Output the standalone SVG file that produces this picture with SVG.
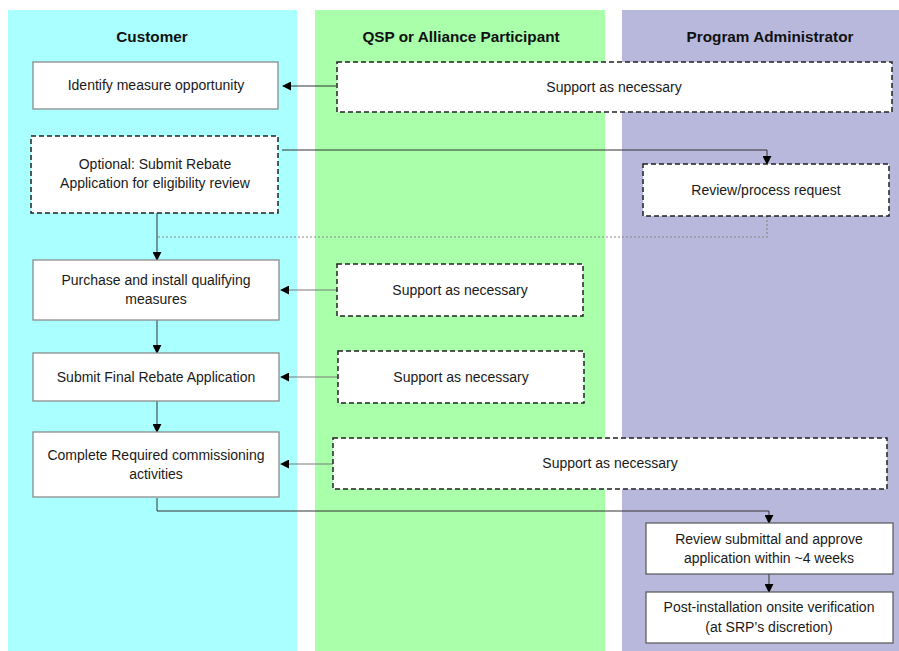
<svg xmlns="http://www.w3.org/2000/svg" width="899" height="651" viewBox="0 0 899 651">
<style>
.t{font-family:"Liberation Sans",Arial,sans-serif;font-size:14px;fill:#1a1a1a;text-anchor:middle}
.s{font-family:"Liberation Sans",Arial,sans-serif;font-size:14px;fill:#1a1a1a;text-anchor:middle}
.h{font-family:"Liberation Sans",Arial,sans-serif;font-size:15.3px;font-weight:bold;fill:#111;text-anchor:middle}
.solid{fill:#fff;stroke:#8c8c8c;stroke-width:1.3}
.solid2{fill:#fff;stroke:#555;stroke-width:1.2}
.dash{fill:#fff;stroke:#222;stroke-width:1.5;stroke-dasharray:5,3}
.c{fill:none;stroke:#333;stroke-width:1}
.cg{fill:none;stroke:#7a7a7a;stroke-width:1.2}
.cd{fill:none;stroke:#888;stroke-width:1.2;stroke-dasharray:2,2}
</style>
<defs>
<marker id="a" viewBox="0 0 10 10" refX="9" refY="5" markerWidth="9" markerHeight="9" markerUnits="userSpaceOnUse" orient="auto">
<path d="M0,0 L10,5 L0,10 z" fill="#000"/>
</marker>
</defs>
<rect width="899" height="651" fill="#fff"/>
<g id="lanes">
<rect x="8" y="10" width="289" height="641" fill="#aaffff"/>
<rect x="315" y="10" width="290" height="641" fill="#aaffaa"/>
<rect x="622" y="10" width="277" height="641" fill="#b8b8dc"/>
<text class="h" x="152" y="42">Customer</text>
<text class="h" x="461" y="42">QSP or Alliance Participant</text>
<text class="h" x="770" y="42">Program Administrator</text>
</g>
<g id="connectors">
<path class="c" d="M336,86 H283" marker-end="url(#a)"/>
<path class="c" d="M282,150 H767 V164" marker-end="url(#a)"/>
<path class="cd" d="M767,216 V237 H157"/>
<path class="c" d="M157,213 V260" marker-end="url(#a)"/>
<path class="c" d="M157,320 V353" marker-end="url(#a)"/>
<path class="c" d="M157,401 V432" marker-end="url(#a)"/>
<path class="cg" d="M337,290 H281" marker-end="url(#a)"/>
<path class="cg" d="M338,377 H281" marker-end="url(#a)"/>
<path class="cg" d="M333,464 H281" marker-end="url(#a)"/>
<path class="c" d="M157,498 V511 H769 V523" marker-end="url(#a)"/>
<path class="c" d="M769,574 V592" marker-end="url(#a)"/>
</g>
<g id="n1"><rect class="solid" x="33" y="62" width="245" height="47"/><text class="t" x="156" y="90">Identify measure opportunity</text></g>
<g id="n2"><rect class="dash" x="31" y="136" width="247" height="77"/><text class="t" x="155" y="169">Optional: Submit Rebate</text><text class="t" x="155" y="188">Application for eligibility review</text></g>
<g id="n3"><rect class="dash" x="337" y="62" width="555" height="50"/><text class="t" x="614" y="92">Support as necessary</text></g>
<g id="n4"><rect class="dash" x="643" y="164" width="246" height="52"/><text class="t" x="766" y="195">Review/process request</text></g>
<g id="n5"><rect class="solid" x="33" y="260" width="246" height="60"/><text class="t" x="156" y="285">Purchase and install qualifying</text><text class="t" x="156" y="304">measures</text></g>
<g id="n6"><rect class="dash" x="337" y="264" width="246" height="52"/><text class="t" x="460" y="295">Support as necessary</text></g>
<g id="n7"><rect class="solid" x="33" y="353" width="246" height="48"/><text class="t" x="156" y="382">Submit Final Rebate Application</text></g>
<g id="n8"><rect class="dash" x="338" y="351" width="246" height="52"/><text class="t" x="461" y="382">Support as necessary</text></g>
<g id="n9"><rect class="solid" x="33" y="432" width="246" height="65"/><text class="t" x="156" y="460">Complete Required commissioning</text><text class="t" x="156" y="479">activities</text></g>
<g id="n10"><rect class="dash" x="333" y="438" width="554" height="51"/><text class="t" x="610" y="468">Support as necessary</text></g>
<g id="n11"><rect class="solid2" x="646" y="523" width="247" height="51"/><text class="s" x="769" y="544">Review submittal and approve</text><text class="s" x="769" y="563">application within ~4 weeks</text></g>
<g id="n12"><rect class="solid2" x="646" y="592" width="247" height="51"/><text class="s" x="769" y="612">Post-installation onsite verification</text><text class="s" x="769" y="632">(at SRP’s discretion)</text></g>
</svg>
